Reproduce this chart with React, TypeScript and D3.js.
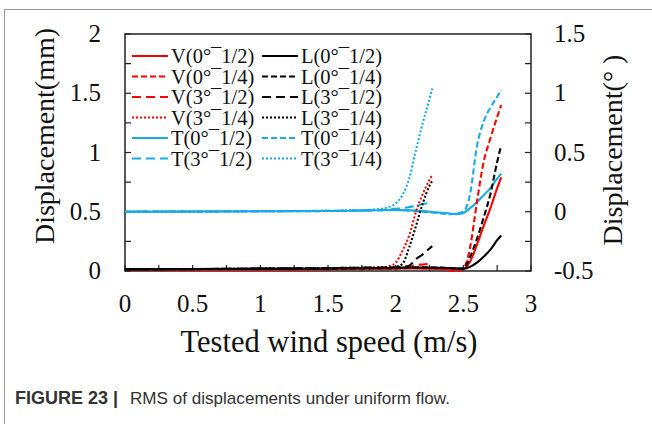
import React from "react";
import * as d3 from "d3";

// x positions (m/s)
const xs0 = [0, 0.25, 0.5, 0.75, 1.0, 1.25, 1.5, 1.75, 2.0, 2.1, 2.2, 2.3, 2.4, 2.45, 2.5, 2.55, 2.6, 2.65, 2.7, 2.75, 2.78];
const xs3 = [0, 0.25, 0.5, 0.75, 1.0, 1.25, 1.5, 1.75, 1.85, 1.95, 2.0, 2.05, 2.1, 2.15, 2.2, 2.25, 2.27];

// left axis (mm)
const V0_12 = [0.01, 0.012, 0.01, 0.013, 0.012, 0.014, 0.015, 0.017, 0.02, 0.022, 0.02, 0.018, 0.015, 0.012, 0.015, 0.08, 0.22, 0.38, 0.53, 0.7, 0.79];
const V0_14 = [0.012, 0.01, 0.013, 0.011, 0.014, 0.012, 0.016, 0.018, 0.02, 0.025, 0.03, 0.02, 0.005, 0.0, 0.02, 0.2, 0.58, 0.92, 1.12, 1.3, 1.4];
const V3_12 = [0.01, 0.012, 0.011, 0.013, 0.012, 0.015, 0.018, 0.02, 0.02, 0.025, 0.03, 0.03, 0.035, 0.05, 0.055, 0.06, 0.06];
const V3_14 = [0.01, 0.011, 0.012, 0.012, 0.014, 0.015, 0.018, 0.02, 0.025, 0.04, 0.07, 0.17, 0.3, 0.5, 0.65, 0.77, 0.81];
const L0_12 = [0.015, 0.016, 0.017, 0.018, 0.02, 0.02, 0.022, 0.025, 0.028, 0.03, 0.03, 0.028, 0.025, 0.022, 0.02, 0.035, 0.07, 0.12, 0.18, 0.26, 0.3];
const L0_14 = [0.014, 0.015, 0.016, 0.017, 0.018, 0.02, 0.02, 0.022, 0.025, 0.028, 0.03, 0.03, 0.025, 0.02, 0.02, 0.12, 0.27, 0.45, 0.65, 0.92, 1.06];
const L3_12 = [0.015, 0.016, 0.017, 0.018, 0.02, 0.022, 0.025, 0.028, 0.03, 0.03, 0.03, 0.035, 0.045, 0.1, 0.14, 0.19, 0.21];
const L3_14 = [0.014, 0.015, 0.016, 0.018, 0.02, 0.022, 0.025, 0.028, 0.03, 0.03, 0.035, 0.06, 0.2, 0.38, 0.57, 0.72, 0.76];

// right axis (deg)
const T0_12 = [0, 0, 0.002, 0.002, 0.004, 0.005, 0.006, 0.01, 0.015, 0.012, 0.005, -0.005, -0.015, -0.02, -0.01, 0.03, 0.08, 0.14, 0.2, 0.28, 0.32];
const T0_14 = [0, 0.002, 0, 0.003, 0.004, 0.005, 0.006, 0.01, 0.015, 0.01, 0.0, -0.01, -0.02, -0.015, 0.0, 0.15, 0.55, 0.76, 0.88, 0.97, 1.03];
const T3_12 = [0, 0.002, 0.002, 0.004, 0.005, 0.006, 0.008, 0.01, 0.012, 0.02, 0.025, 0.03, 0.04, 0.05, 0.065, 0.075, 0.08];
const T3_14 = [0, 0.002, 0.003, 0.004, 0.005, 0.006, 0.008, 0.012, 0.02, 0.04, 0.07, 0.14, 0.28, 0.52, 0.75, 0.95, 1.04];

const xTicks = [0, 0.5, 1, 1.5, 2, 2.5, 3];
const yLTicks = [0, 0.5, 1, 1.5, 2];
const yRTicks = [-0.5, 0, 0.5, 1, 1.5];

const RED = "#ff0000";
const BLACK = "#000000";
const BLUE = "#19a9e6";

const SOLID = "none";
const SHORT = "6,3";
const LONG = "9,5";
const DOT = "2,2";

type S = { name: string; xs: number[]; ys: number[]; color: string; dash: string; axis: "L" | "R" };

const series: S[] = [
  { name: "V(0°¯1/2)", xs: xs0, ys: V0_12, color: RED, dash: SOLID, axis: "L" },
  { name: "V(0°¯1/4)", xs: xs0, ys: V0_14, color: RED, dash: SHORT, axis: "L" },
  { name: "V(3°¯1/2)", xs: xs3, ys: V3_12, color: RED, dash: LONG, axis: "L" },
  { name: "V(3°¯1/4)", xs: xs3, ys: V3_14, color: RED, dash: DOT, axis: "L" },
  { name: "T(0°¯1/2)", xs: xs0, ys: T0_12, color: BLUE, dash: SOLID, axis: "R" },
  { name: "T(3°¯1/2)", xs: xs3, ys: T3_12, color: BLUE, dash: LONG, axis: "R" },
  { name: "L(0°¯1/2)", xs: xs0, ys: L0_12, color: BLACK, dash: SOLID, axis: "L" },
  { name: "L(0°¯1/4)", xs: xs0, ys: L0_14, color: BLACK, dash: SHORT, axis: "L" },
  { name: "L(3°¯1/2)", xs: xs3, ys: L3_12, color: BLACK, dash: LONG, axis: "L" },
  { name: "L(3°¯1/4)", xs: xs3, ys: L3_14, color: BLACK, dash: DOT, axis: "L" },
  { name: "T(0°¯1/4)", xs: xs0, ys: T0_14, color: BLUE, dash: SHORT, axis: "R" },
  { name: "T(3°¯1/4)", xs: xs3, ys: T3_14, color: BLUE, dash: DOT, axis: "R" },
];

const PL = 125, PR = 531, PT = 34, PB = 271;

export default function App() {
  const x = d3.scaleLinear().domain([0, 3]).range([PL, PR]);
  const yL = d3.scaleLinear().domain([0, 2]).range([PB, PT]);
  const yR = d3.scaleLinear().domain([-0.5, 1.5]).range([PB, PT]);
  const minor = d3.range(0, 3.001, 0.25);
  const minorY = d3.range(0, 2.001, 0.25);

  const serif = "'Liberation Serif', 'Times New Roman', serif";
  const sans = "'Liberation Sans', Arial, sans-serif";
  const drawOrder = [...series].sort((a, b) => (a.color === BLUE ? -1 : 0) - (b.color === BLUE ? -1 : 0));

  return (
    <svg width={652} height={424} style={{ position: "absolute", left: 0, top: 0, background: "#fff" }}>
      <path d="M4.5,424 L4.5,9.5 L652,9.5" fill="none" stroke="#9a9a9a" strokeWidth={1} />
      {/* plot frame */}
      <rect x={PL} y={PT} width={PR - PL} height={PB - PT} fill="none" stroke="#222" strokeWidth={1.5} />
      {minorY.map((v) => (
        <g key={"yt" + v}>
          <line x1={PL} x2={PL + 6} y1={yL(v)} y2={yL(v)} stroke="#222" strokeWidth={1.2} />
          <line x1={PR} x2={PR - 6} y1={yL(v)} y2={yL(v)} stroke="#222" strokeWidth={1.2} />
        </g>
      ))}
      {minor.map((v) => (
        <line key={"xt" + v} x1={x(v)} x2={x(v)} y1={PB} y2={PB - 6} stroke="#222" strokeWidth={1.2} />
      ))}
      {/* series */}
      <g clipPath="url(#clip)">
        {drawOrder.map((s) => {
          const ys = s.axis === "L" ? yL : yR;
          const line = d3.line<number>().x((_, i) => x(s.xs[i])).y((d) => ys(d)).curve(d3.curveMonotoneX);
          return (
            <path key={s.name} d={line(s.ys) || ""} fill="none" stroke={s.color} strokeWidth={2.1}
              strokeDasharray={s.dash === SOLID ? undefined : s.dash} />
          );
        })}
      </g>
      <defs>
        <clipPath id="clip"><rect x={PL} y={PT - 2} width={PR - PL} height={PB - PT + 4} /></clipPath>
      </defs>
      {/* legend */}
      {series.map((s, i) => {
        const col = i < 6 ? 0 : 1;
        const row = i % 6;
        const lx = col === 0 ? 132 : 262;
        const ly = 56 + row * 20.5;
        return (
          <g key={"lg" + s.name}>
            <line x1={lx} x2={lx + 36} y1={ly} y2={ly} stroke={s.color} strokeWidth={2}
              strokeDasharray={s.dash === SOLID ? undefined : s.dash} />
            <text x={lx + 39} y={ly + 7} fontFamily={serif} fontSize={20.5} fill="#111">{s.name}</text>
          </g>
        );
      })}
      {/* tick labels */}
      {xTicks.map((v) => (
        <text key={"xl" + v} x={x(v)} y={312} textAnchor="middle" fontFamily={serif} fontSize={25} fill="#111">{v}</text>
      ))}
      {yLTicks.map((v) => (
        <text key={"yl" + v} x={101} y={yL(v) + 8} textAnchor="end" fontFamily={serif} fontSize={25} fill="#111">{v}</text>
      ))}
      {yRTicks.map((v) => (
        <text key={"yr" + v} x={554} y={yR(v) + 8} textAnchor="start" fontFamily={serif} fontSize={25} fill="#111">{v}</text>
      ))}
      {/* axis titles */}
      <text x={329} y={352} textAnchor="middle" fontFamily={serif} fontSize={30.5} fill="#111">Tested wind speed (m/s)</text>
      <text transform="translate(54,136) rotate(-90)" textAnchor="middle" fontFamily={serif} fontSize={28} fill="#111">Displacement(mm)</text>
      <text transform="translate(622,150) rotate(-90)" textAnchor="middle" fontFamily={serif} fontSize={28} fill="#111">Displacement(°  )</text>
      {/* caption */}
      <text x={15} y={404} fontFamily={sans} fontSize={18} fontWeight="bold" fill="#333">FIGURE 23 |</text>
      <text x={130} y={404} fontFamily={sans} fontSize={17} fill="#333" textLength={320} lengthAdjust="spacingAndGlyphs">RMS of displacements under uniform flow.</text>
    </svg>
  );
}
